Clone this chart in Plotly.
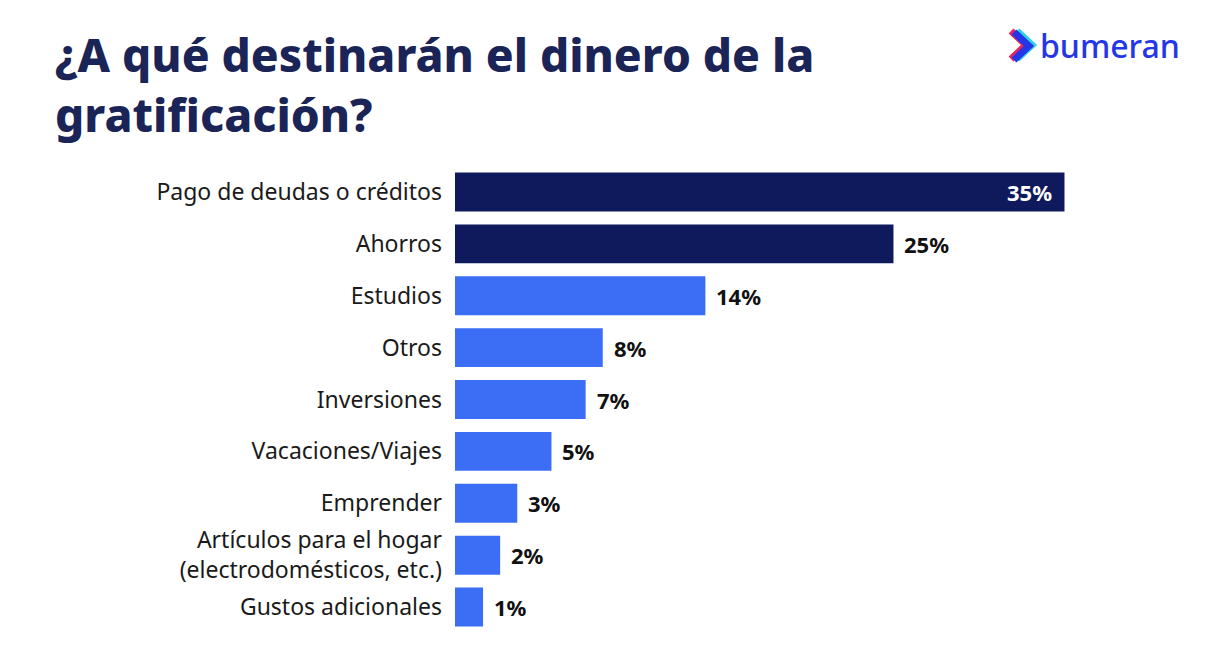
import plotly.graph_objects as go

categories = [
    "Pago de deudas o créditos",
    "Ahorros",
    "Estudios",
    "Otros",
    "Inversiones",
    "Vacaciones/Viajes",
    "Emprender",
    "Artículos para el hogar<br>(electrodomésticos, etc.)",
    "Gustos adicionales",
]
values = [35, 25, 14, 8, 7, 5, 3, 2, 1]
labels = ["35%", "25%", "14%", "8%", "7%", "5%", "3%", "2%", "1%"]
highlight = [True, True, False, False, False, False, False, False, False]
title_text = "¿A qué destinarán el dinero de la<br>gratificación?"

NAVY = "#0e1a5c"
BLUE = "#3b6ef5"
TITLE = "#1a2456"

W, H = 1207, 654
L, R, T, B = 455, 57, 166, 21
STUB = -0.64
XMAX = 40


def px(xp):
    return (xp - L) / (W - L - R)


def py(yp):
    return (H - B - yp) / (H - T - B)


colors = [NAVY if h else BLUE for h in highlight]

fig = go.Figure()
fig.add_trace(go.Bar(
    y=categories,
    x=[v - STUB for v in values],
    base=STUB,
    orientation="h",
    marker=dict(color=colors, line=dict(width=0)),
    width=0.75,
    hoverinfo="skip",
))

for i, (c, v, t) in enumerate(zip(categories, values, labels)):
    inside = i == 0
    fig.add_annotation(
        x=v, y=c, xref="x", yref="y",
        text="<b>" + t + "</b>",
        showarrow=False,
        xanchor="right" if inside else "left",
        xshift=-10 if inside else 9,
        font=dict(family="Noto Sans", size=22, color="white" if inside else "#111111"),
    )

# Title
fig.add_annotation(
    x=px(53), y=py(21), xref="paper", yref="paper",
    text=title_text,
    showarrow=False, xanchor="left", yanchor="top", align="left",
    font=dict(family="Noto Sans", size=46, weight=800, color=TITLE),
)

# Logo text
fig.add_annotation(
    x=px(1038), y=py(45), xref="paper", yref="paper",
    text="bumeran",
    showarrow=False, xanchor="left", yanchor="middle",
    font=dict(family="Noto Sans", size=32, weight=500, color="#2436e8"),
)

# Logo chevron
def chevron(dx, dy, color):
    pts = [(1014 + dx, 32 + dy), (1029 + dx, 46 + dy), (1014 + dx, 60 + dy)]
    d = "M {} {} L {} {} L {} {}".format(
        px(pts[0][0]), py(pts[0][1]), px(pts[1][0]), py(pts[1][1]), px(pts[2][0]), py(pts[2][1]))
    fig.add_shape(type="path", path=d, xref="paper", yref="paper",
                  line=dict(color=color, width=7), layer="above")

chevron(-3, -1, "#e8245e")
chevron(3, -1, "#2ad4e8")
chevron(0, 0, "#2436e8")

fig.update_layout(
    width=W, height=H,
    margin=dict(l=L, r=R, t=T, b=B),
    paper_bgcolor="white", plot_bgcolor="white",
    showlegend=False,
    bargap=0.25,
)
fig.update_xaxes(range=[STUB, XMAX], visible=False, fixedrange=True)
fig.update_yaxes(
    autorange="reversed",
    showgrid=False, zeroline=False, showline=False,
    ticks="", ticklabelstandoff=12,
    tickfont=dict(family="Noto Sans", size=23, color="#1a1a1a"),
    fixedrange=True,
)

fig.write_html("out.html", config={"displayModeBar": False})
